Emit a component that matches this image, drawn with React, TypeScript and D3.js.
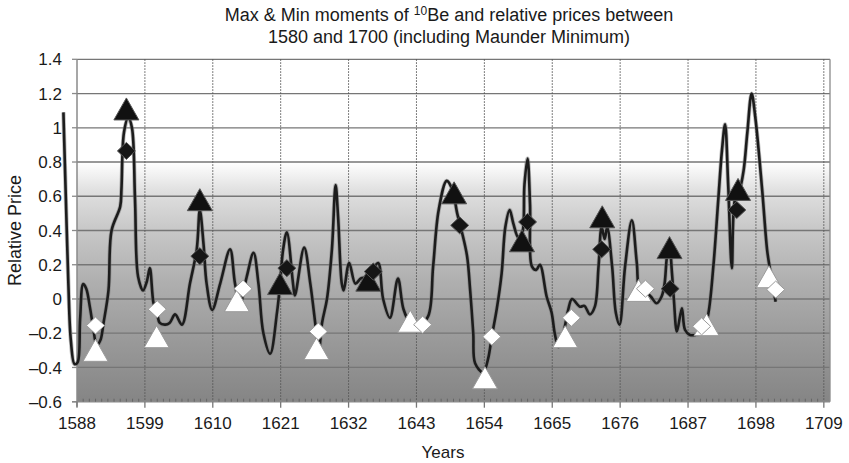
import React, { useEffect, useRef } from 'react';
import * as d3 from 'd3';

// relative price curve (smoothed line)
const lineYears = [
  1585.8, 1586.2, 1586.6, 1587.0, 1587.6, 1588.1, 1588.5, 1589.0, 1589.5, 1590.1,
  1590.6, 1591.2, 1591.8, 1592.3, 1593.1, 1593.6, 1595.0, 1595.2, 1595.6, 1596.3,
  1596.9, 1597.4, 1597.9, 1598.7, 1599.3, 1599.8, 1600.4, 1601.0, 1601.4, 1602.3,
  1603.0, 1603.9, 1605.0, 1606.3, 1607.4, 1607.9, 1608.5, 1609.0, 1609.9, 1611.2,
  1612.8, 1613.6, 1614.4, 1615.5, 1616.6, 1617.4, 1618.2, 1619.3, 1620.4, 1620.9,
  1621.4, 1622.0, 1623.0, 1623.3, 1624.8, 1625.8, 1626.8, 1627.2, 1627.7, 1628.5,
  1629.3, 1629.9, 1630.3, 1630.9, 1631.2, 1632.1, 1633.1, 1634.0, 1635.0, 1636.0,
  1636.8, 1637.6, 1638.7, 1640.0, 1640.9, 1642.0, 1643.3, 1644.9, 1645.7, 1646.6,
  1647.9, 1648.8, 1649.6, 1650.3, 1651.2, 1651.7, 1652.2, 1652.5, 1653.8, 1654.6,
  1655.2, 1656.0, 1656.8, 1657.4, 1658.1, 1658.7, 1659.5, 1660.1, 1660.5, 1661.0,
  1661.4, 1661.7, 1662.4, 1663.0, 1664.1, 1664.9, 1665.4, 1666.0, 1666.8, 1667.6,
  1668.2, 1669.5, 1670.2, 1671.1, 1671.9, 1672.5, 1673.0, 1673.5, 1673.9, 1674.7,
  1675.3, 1675.9, 1676.8, 1677.9, 1678.7, 1679.2, 1680.2, 1681.0, 1681.9, 1682.7,
  1683.2, 1683.6, 1684.0, 1684.4, 1684.7, 1685.2, 1686.0, 1686.5, 1687.3, 1688.2,
  1689.5, 1690.3, 1691.1, 1691.9, 1692.5, 1693.0, 1693.5, 1694.1, 1694.6, 1695.3,
  1696.0, 1696.6, 1697.3, 1697.9, 1699.0, 1699.8, 1700.2, 1700.8, 1701.2
];
const lineValues = [
  1.09, 0.58, 0.09, -0.24, -0.38, -0.37, -0.12, 0.087, 0.06, -0.05,
  -0.16, -0.27, -0.24, -0.14, 0.05, 0.40, 0.54, 0.64, 0.97, 1.06,
  1.0, 0.58, 0.13, 0.05, 0.10, 0.18, -0.025, -0.09, -0.14, -0.15,
  -0.14, -0.09, -0.15, 0.09, 0.29, 0.52, 0.32, 0.09, -0.064, 0.09,
  0.29, 0.09, -0.03, 0.13, 0.27, 0.09, -0.2, -0.32, -0.08, 0.09,
  0.29, 0.39, 0.09, 0.02, 0.30, 0.09, -0.2, -0.3, -0.14, 0.0,
  0.29, 0.665, 0.48, 0.09, 0.05, 0.21, 0.09, 0.12, 0.13, 0.18,
  0.21, 0.0, -0.11, 0.12, -0.06, -0.14, -0.16, -0.1, 0.19, 0.52,
  0.69, 0.64, 0.50, 0.40, 0.25, 0.05, -0.2, -0.375, -0.43, -0.35,
  -0.22, -0.06, 0.15, 0.42, 0.52, 0.44, 0.36, 0.38, 0.67, 0.82,
  0.55, 0.19, 0.17, 0.2, 0.013, -0.08, -0.2, -0.28, -0.2, -0.06,
  0.0, -0.045, -0.04, -0.09, -0.045, 0.19, 0.42, 0.35, 0.42, 0.19,
  -0.08, -0.15, 0.19, 0.46, 0.21, 0.05, 0.04, 0.013, -0.025, 0.013,
  0.09, 0.25, 0.30, 0.15, 0.0, -0.19, -0.054, -0.18, -0.21, -0.21,
  -0.19, -0.083, 0.19, 0.58, 0.87, 1.02, 0.67, 0.18, 0.58, 0.63,
  0.75, 0.97, 1.2, 1.06, 0.64, 0.29, 0.19, 0.06, -0.016
];

// max / min moments of 10Be
const maxTriYears = [1596.0, 1607.9, 1620.9, 1635.2, 1649.1, 1660.1, 1673.1, 1684.0, 1695.1];
const maxTriValues = [1.11, 0.58, 0.09, 0.11, 0.62, 0.34, 0.48, 0.30, 0.64];
const maxDiaYears = [1596.0, 1607.9, 1622.0, 1636.0, 1650.0, 1661.0, 1673.0, 1684.1, 1694.9];
const maxDiaValues = [0.865, 0.25, 0.18, 0.16, 0.43, 0.45, 0.29, 0.06, 0.52];
const minTriYears = [1591.0, 1600.9, 1613.9, 1626.8, 1642.0, 1654.1, 1667.1, 1679.0, 1690.0, 1700.1];
const minTriValues = [-0.3, -0.22, -0.01, -0.29, -0.13, -0.46, -0.22, 0.05, -0.15, 0.13];
const minDiaYears = [1591.0, 1601.0, 1614.9, 1627.1, 1644.0, 1655.2, 1668.1, 1680.1, 1689.2, 1701.2];
const minDiaValues = [-0.155, -0.06, 0.06, -0.19, -0.15, -0.22, -0.11, 0.06, -0.16, 0.055];

const xTicks = [1588, 1599, 1610, 1621, 1632, 1643, 1654, 1665, 1676, 1687, 1698, 1709];
const yTicks = [-0.6, -0.4, -0.2, 0, 0.2, 0.4, 0.6, 0.8, 1, 1.2, 1.4];
const yTickLabels = ['–0.6', '–0.4', '–0.2', '0', '0.2', '0.4', '0.6', '0.8', '1', '1.2', '1.4'];

const FONT = '"Liberation Sans", Arial, Helvetica, sans-serif';

const App = () => {
  const svgRef = useRef<SVGSVGElement>(null);

  useEffect(() => {
    const svg = d3.select(svgRef.current);
    svg.selectAll('*').remove();

    const x = d3.scaleLinear().domain([1588, 1710]).range([77, 830]);
    const y = d3.scaleLinear().domain([-0.6, 1.4]).range([401.7, 59.3]);
    const left = x(1588);
    const right = x(1710);
    const top = y(1.4);
    const bottom = y(-0.6);

    const defs = svg.append('defs');
    const grad = defs.append('linearGradient')
      .attr('id', 'bg')
      .attr('gradientUnits', 'userSpaceOnUse')
      .attr('x1', 0).attr('x2', 0)
      .attr('y1', y(0.8)).attr('y2', bottom);
    [[0, '#ffffff'], [0.12, '#e0e0e0'], [0.28, '#c8c8c8'], [0.5, '#afafaf'], [0.75, '#999999'], [1, '#858585']]
      .forEach(([o, c]) => grad.append('stop').attr('offset', o as number).attr('stop-color', c as string));

    svg.append('rect')
      .attr('x', left).attr('y', top)
      .attr('width', right - left).attr('height', bottom - top)
      .attr('fill', 'url(#bg)');

    // horizontal grid
    svg.append('g')
      .selectAll('line')
      .data(yTicks.filter((d) => d > -0.6))
      .enter()
      .append('line')
      .attr('x1', left).attr('x2', right)
      .attr('y1', (d) => y(d)).attr('y2', (d) => y(d))
      .attr('stroke', '#767676')
      .attr('stroke-width', 1.3);

    // vertical dotted grid
    svg.append('g')
      .selectAll('line')
      .data(xTicks.slice(1))
      .enter()
      .append('line')
      .attr('x1', (d) => x(d)).attr('x2', (d) => x(d))
      .attr('y1', top).attr('y2', bottom)
      .attr('stroke', '#555')
      .attr('stroke-width', 1)
      .attr('stroke-dasharray', '1.5,1.5');

    // right border
    svg.append('line')
      .attr('x1', right).attr('x2', right)
      .attr('y1', top).attr('y2', bottom)
      .attr('stroke', '#8a8a8a').attr('stroke-width', 1.3);

    // axes
    svg.append('line')
      .attr('x1', left).attr('x2', left)
      .attr('y1', top).attr('y2', bottom + 5)
      .attr('stroke', '#8a8a8a').attr('stroke-width', 1.5);
    svg.append('line')
      .attr('x1', left - 5).attr('x2', right)
      .attr('y1', bottom).attr('y2', bottom)
      .attr('stroke', '#8a8a8a').attr('stroke-width', 1.5);

    svg.append('g')
      .selectAll('line')
      .data(yTicks)
      .enter()
      .append('line')
      .attr('x1', left - 5).attr('x2', left)
      .attr('y1', (d) => y(d)).attr('y2', (d) => y(d))
      .attr('stroke', '#8a8a8a').attr('stroke-width', 1.3);

    svg.append('g')
      .selectAll('line')
      .data(d3.range(1589, 1710).filter((d) => (d - 1588) % 11 !== 0))
      .enter()
      .append('line')
      .attr('x1', (d) => x(d)).attr('x2', (d) => x(d))
      .attr('y1', bottom - 3).attr('y2', bottom)
      .attr('stroke', '#666').attr('stroke-width', 1);

    svg.append('g')
      .selectAll('line')
      .data(xTicks)
      .enter()
      .append('line')
      .attr('x1', (d) => x(d)).attr('x2', (d) => x(d))
      .attr('y1', bottom).attr('y2', bottom + 6)
      .attr('stroke', '#777').attr('stroke-width', 1.3);

    // tick labels
    svg.append('g')
      .selectAll('text')
      .data(xTicks)
      .enter()
      .append('text')
      .attr('x', (d) => x(d))
      .attr('y', 429)
      .attr('text-anchor', 'middle')
      .attr('font-family', FONT)
      .attr('font-size', 17)
      .attr('fill', '#1a1a1a')
      .text((d) => d);

    svg.append('g')
      .selectAll('text')
      .data(yTicks)
      .enter()
      .append('text')
      .attr('x', 62)
      .attr('y', (d) => y(d))
      .attr('dy', '0.36em')
      .attr('text-anchor', 'end')
      .attr('font-family', FONT)
      .attr('font-size', 17)
      .attr('fill', '#1a1a1a')
      .text((d, i) => yTickLabels[i]);

    // price line
    const pts: [number, number][] = lineYears.map((yr, i) => [yr, lineValues[i]]);
    const line = d3.line<[number, number]>()
      .x((d) => x(d[0]))
      .y((d) => y(d[1]))
      .curve(d3.curveCatmullRom.alpha(0.5));

    svg.append('path')
      .datum(pts)
      .attr('d', line)
      .attr('fill', 'none')
      .attr('stroke', '#777')
      .attr('stroke-opacity', 0.5)
      .attr('stroke-width', 4.2);
    svg.append('path')
      .datum(pts)
      .attr('d', line)
      .attr('fill', 'none')
      .attr('stroke', '#1c1c1c')
      .attr('stroke-width', 2.6)
      .attr('stroke-linejoin', 'round');

    const triPath = (w: number, h: number) => `M0,${-h / 2}L${w / 2},${h / 2}L${-w / 2},${h / 2}Z`;
    const diaPath = (w: number, h: number) => `M0,${-h / 2}L${w / 2},0L0,${h / 2}L${-w / 2},0Z`;

    const drawMarkers = (years: number[], values: number[], path: string, fill: string, stroke: string) => {
      svg.append('g')
        .selectAll('path')
        .data(years.map((yr, i) => [yr, values[i]]))
        .enter()
        .append('path')
        .attr('transform', (d) => `translate(${x(d[0])},${y(d[1])})`)
        .attr('d', path)
        .attr('fill', fill)
        .attr('stroke', stroke)
        .attr('stroke-width', 1)
        .attr('stroke-linejoin', 'round');
    };

    drawMarkers(minTriYears, minTriValues, triPath(25, 22), '#ffffff', '#9a9a9a');
    drawMarkers(maxTriYears, maxTriValues, triPath(25, 22), '#111111', '#555');
    drawMarkers(minDiaYears, minDiaValues, diaPath(18, 17), '#ffffff', '#9a9a9a');
    drawMarkers(maxDiaYears, maxDiaValues, diaPath(18, 17), '#151515', '#555');

    // titles
    const title = svg.append('text')
      .attr('x', 449)
      .attr('y', 21)
      .attr('text-anchor', 'middle')
      .attr('font-family', FONT)
      .attr('font-size', 18)
      .attr('fill', '#1a1a1a');
    title.append('tspan').text('Max & Min moments of ');
    title.append('tspan').attr('font-size', 12).attr('dy', -6).text('10');
    title.append('tspan').attr('dy', 6).text('Be and relative prices between');

    svg.append('text')
      .attr('x', 449)
      .attr('y', 43)
      .attr('text-anchor', 'middle')
      .attr('font-family', FONT)
      .attr('font-size', 18)
      .attr('fill', '#1a1a1a')
      .text('1580 and 1700 (including Maunder Minimum)');

    svg.append('text')
      .attr('x', 443)
      .attr('y', 458)
      .attr('text-anchor', 'middle')
      .attr('font-family', FONT)
      .attr('font-size', 17)
      .attr('fill', '#1a1a1a')
      .text('Years');

    svg.append('text')
      .attr('transform', `translate(21,${(top + bottom) / 2}) rotate(-90)`)
      .attr('text-anchor', 'middle')
      .attr('font-family', FONT)
      .attr('font-size', 18)
      .attr('fill', '#1a1a1a')
      .text('Relative Price');
  }, []);

  return (
    <svg
      ref={svgRef}
      width={849}
      height={463}
      style={{ position: 'absolute', left: 0, top: 0, background: '#ffffff' }}
    />
  );
};

export default App;
